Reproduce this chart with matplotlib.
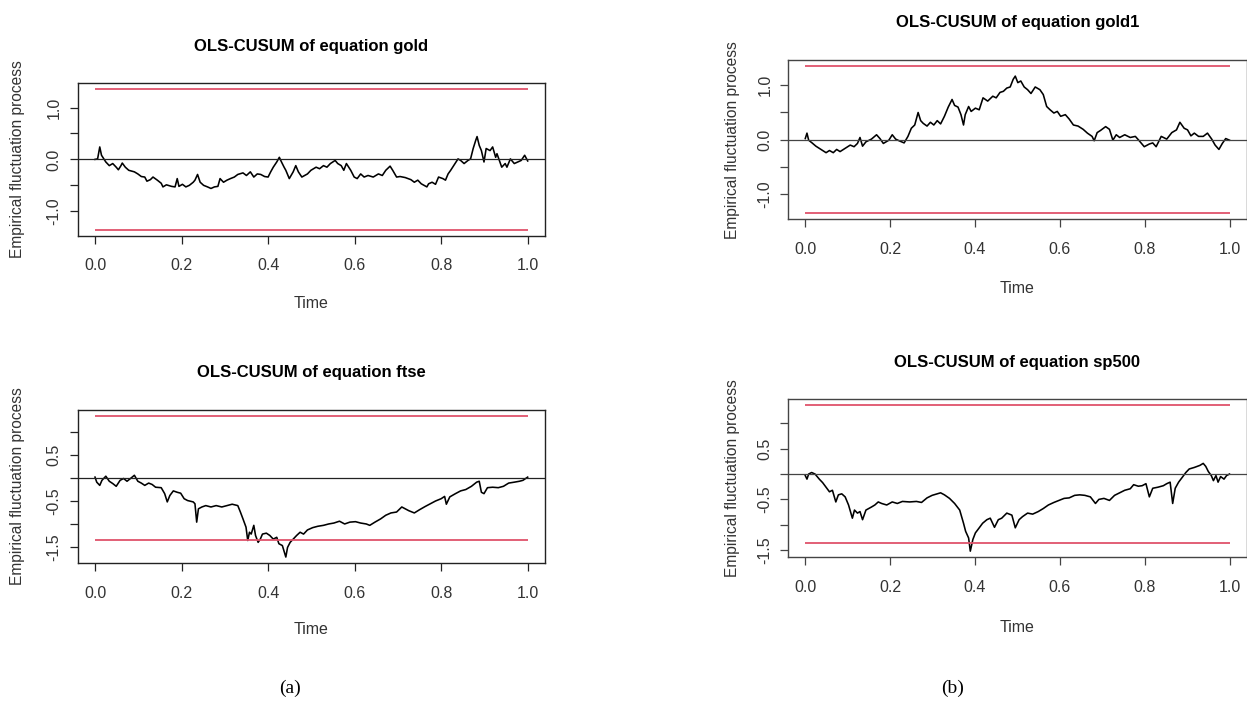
import matplotlib.pyplot as plt

plt.rcParams['font.family'] = ['Liberation Sans', 'DejaVu Sans']
plt.rcParams['axes.unicode_minus'] = False

W, H = 1247, 704

# OLS-CUSUM paths (time scaled to [0, 1])
gold_t = [0.000, 0.006, 0.011, 0.015, 0.025, 0.033, 0.041, 0.049, 0.054, 0.060, 0.063, 0.070,
          0.078, 0.091, 0.099, 0.107, 0.115, 0.120, 0.128, 0.134, 0.144, 0.153, 0.157, 0.165,
          0.177, 0.185, 0.190, 0.194, 0.202, 0.210, 0.218, 0.227, 0.231, 0.237, 0.243, 0.251,
          0.260, 0.268, 0.276, 0.284, 0.289, 0.297, 0.305, 0.313, 0.322, 0.330, 0.342, 0.350,
          0.359, 0.367, 0.375, 0.383, 0.392, 0.400, 0.406, 0.412, 0.420, 0.426, 0.431, 0.437,
          0.441, 0.449, 0.458, 0.464, 0.470, 0.478, 0.491, 0.499, 0.511, 0.519, 0.528, 0.536,
          0.544, 0.555, 0.561, 0.569, 0.575, 0.581, 0.591, 0.599, 0.606, 0.614, 0.622, 0.631,
          0.643, 0.655, 0.664, 0.672, 0.682, 0.688, 0.697, 0.705, 0.717, 0.730, 0.738, 0.746,
          0.754, 0.767, 0.771, 0.779, 0.787, 0.794, 0.804, 0.810, 0.816, 0.822, 0.829, 0.839,
          0.845, 0.853, 0.862, 0.868, 0.874, 0.880, 0.883, 0.888, 0.893, 0.899, 0.904, 0.913,
          0.919, 0.926, 0.929, 0.940, 0.948, 0.952, 0.960, 0.969, 0.977, 0.985, 0.993, 1.000]
gold_v = [0.00, 0.01, 0.24, 0.08, -0.05, -0.12, -0.08, -0.15, -0.20, -0.12, -0.07, -0.15,
          -0.21, -0.24, -0.28, -0.33, -0.34, -0.42, -0.39, -0.34, -0.40, -0.46, -0.53, -0.49,
          -0.52, -0.53, -0.37, -0.52, -0.48, -0.53, -0.50, -0.44, -0.40, -0.29, -0.44, -0.50,
          -0.53, -0.56, -0.53, -0.52, -0.37, -0.44, -0.40, -0.37, -0.34, -0.29, -0.26, -0.31,
          -0.24, -0.34, -0.28, -0.29, -0.33, -0.34, -0.24, -0.15, -0.05, 0.04, -0.05, -0.15,
          -0.21, -0.37, -0.24, -0.12, -0.24, -0.34, -0.28, -0.21, -0.15, -0.18, -0.12, -0.15,
          -0.08, -0.02, -0.08, -0.12, -0.21, -0.08, -0.21, -0.34, -0.37, -0.28, -0.34, -0.31,
          -0.34, -0.28, -0.31, -0.21, -0.13, -0.21, -0.34, -0.33, -0.35, -0.39, -0.44, -0.40,
          -0.47, -0.53, -0.47, -0.44, -0.48, -0.34, -0.37, -0.40, -0.28, -0.21, -0.12, 0.01,
          -0.02, -0.08, -0.02, 0.01, 0.21, 0.37, 0.44, 0.27, 0.17, -0.05, 0.21, 0.17,
          0.24, 0.04, 0.11, -0.15, -0.08, -0.15, 0.01, -0.08, -0.05, -0.02, 0.08, -0.03]

ftse_t = [0.000, 0.004, 0.011, 0.016, 0.025, 0.033, 0.041, 0.049, 0.058, 0.066, 0.074, 0.082,
          0.091, 0.099, 0.107, 0.115, 0.124, 0.132, 0.140, 0.153, 0.161, 0.167, 0.173, 0.181,
          0.190, 0.198, 0.206, 0.214, 0.227, 0.231, 0.235, 0.239, 0.247, 0.256, 0.268, 0.280,
          0.293, 0.305, 0.317, 0.330, 0.336, 0.342, 0.349, 0.353, 0.357, 0.361, 0.367, 0.371,
          0.377, 0.382, 0.387, 0.396, 0.404, 0.412, 0.420, 0.425, 0.433, 0.441, 0.445, 0.451,
          0.458, 0.466, 0.474, 0.482, 0.491, 0.503, 0.515, 0.528, 0.540, 0.552, 0.565, 0.577,
          0.589, 0.602, 0.614, 0.627, 0.635, 0.647, 0.660, 0.672, 0.684, 0.697, 0.709, 0.717,
          0.725, 0.738, 0.750, 0.763, 0.775, 0.787, 0.800, 0.808, 0.812, 0.820, 0.833, 0.845,
          0.857, 0.870, 0.882, 0.888, 0.893, 0.899, 0.907, 0.919, 0.932, 0.944, 0.956, 0.969,
          0.981, 0.989, 1.000]
ftse_v = [0.02, -0.09, -0.16, -0.05, 0.04, -0.07, -0.12, -0.18, -0.05, -0.01, -0.07, -0.01,
          0.06, -0.07, -0.11, -0.16, -0.11, -0.14, -0.20, -0.21, -0.34, -0.52, -0.38, -0.28,
          -0.31, -0.33, -0.45, -0.49, -0.52, -0.56, -0.96, -0.67, -0.63, -0.60, -0.63, -0.60,
          -0.63, -0.60, -0.57, -0.60, -0.74, -0.89, -1.07, -1.36, -1.18, -1.22, -1.03, -1.25,
          -1.40, -1.33, -1.22, -1.20, -1.25, -1.33, -1.29, -1.43, -1.47, -1.72, -1.51, -1.40,
          -1.33, -1.25, -1.18, -1.22, -1.13, -1.08, -1.05, -1.03, -1.00, -0.98, -0.94, -1.00,
          -0.96, -0.95, -0.98, -1.00, -1.03, -0.96, -0.89, -0.81, -0.76, -0.74, -0.63, -0.67,
          -0.71, -0.76, -0.69, -0.62, -0.56, -0.50, -0.45, -0.40, -0.57, -0.41, -0.34, -0.28,
          -0.25, -0.18, -0.09, -0.07, -0.31, -0.34, -0.21, -0.20, -0.21, -0.18, -0.11, -0.09,
          -0.07, -0.05, 0.02]

gold1_t = [0.000, 0.004, 0.008, 0.016, 0.025, 0.037, 0.049, 0.057, 0.066, 0.074, 0.082, 0.090,
           0.098, 0.106, 0.115, 0.123, 0.129, 0.135, 0.143, 0.156, 0.168, 0.176, 0.184, 0.197,
           0.205, 0.213, 0.221, 0.233, 0.242, 0.250, 0.258, 0.266, 0.272, 0.278, 0.287, 0.295,
           0.303, 0.311, 0.319, 0.328, 0.337, 0.346, 0.352, 0.360, 0.367, 0.373, 0.377, 0.385,
           0.391, 0.401, 0.410, 0.419, 0.430, 0.442, 0.450, 0.459, 0.467, 0.475, 0.483, 0.490,
           0.495, 0.501, 0.508, 0.516, 0.524, 0.532, 0.542, 0.553, 0.561, 0.569, 0.577, 0.586,
           0.594, 0.602, 0.613, 0.622, 0.632, 0.643, 0.655, 0.665, 0.676, 0.681, 0.688, 0.696,
           0.708, 0.717, 0.725, 0.733, 0.741, 0.753, 0.766, 0.778, 0.786, 0.799, 0.811, 0.819,
           0.827, 0.839, 0.852, 0.864, 0.875, 0.883, 0.893, 0.901, 0.909, 0.917, 0.927, 0.938,
           0.948, 0.958, 0.966, 0.975, 0.983, 0.991, 1.000]
gold1_v = [0.02, 0.12, -0.01, -0.06, -0.12, -0.18, -0.24, -0.20, -0.24, -0.18, -0.22, -0.18,
           -0.14, -0.10, -0.13, -0.07, 0.04, -0.12, -0.04, 0.01, 0.09, 0.02, -0.07, -0.01,
           0.09, 0.01, -0.02, -0.06, 0.06, 0.21, 0.27, 0.50, 0.35, 0.30, 0.25, 0.32,
           0.27, 0.35, 0.29, 0.43, 0.60, 0.74, 0.63, 0.60, 0.46, 0.27, 0.46, 0.61,
           0.52, 0.58, 0.55, 0.77, 0.71, 0.80, 0.77, 0.87, 0.89, 0.95, 0.97, 1.11,
           1.17, 1.05, 1.08, 0.97, 0.92, 0.85, 0.97, 0.92, 0.83, 0.61, 0.55, 0.49,
           0.52, 0.43, 0.46, 0.38, 0.27, 0.25, 0.19, 0.12, 0.06, -0.02, 0.13, 0.17,
           0.24, 0.19, -0.01, 0.09, 0.04, 0.09, 0.04, 0.06, -0.01, -0.13, -0.08, -0.06,
           -0.13, 0.06, 0.01, 0.13, 0.18, 0.32, 0.21, 0.18, 0.07, 0.12, 0.06, 0.06,
           0.12, 0.01, -0.10, -0.18, -0.07, 0.02, -0.01]

sp500_t = [0.000, 0.004, 0.008, 0.015, 0.023, 0.033, 0.041, 0.049, 0.057, 0.064, 0.072, 0.078,
           0.086, 0.094, 0.102, 0.111, 0.116, 0.123, 0.129, 0.135, 0.143, 0.156, 0.164, 0.172,
           0.180, 0.192, 0.205, 0.217, 0.229, 0.246, 0.262, 0.274, 0.287, 0.299, 0.311, 0.319,
           0.328, 0.340, 0.352, 0.364, 0.373, 0.378, 0.385, 0.389, 0.395, 0.401, 0.410, 0.418,
           0.428, 0.436, 0.446, 0.455, 0.463, 0.475, 0.487, 0.495, 0.504, 0.512, 0.524, 0.536,
           0.549, 0.561, 0.573, 0.586, 0.598, 0.610, 0.622, 0.635, 0.647, 0.659, 0.672, 0.684,
           0.692, 0.704, 0.717, 0.729, 0.741, 0.753, 0.766, 0.774, 0.785, 0.794, 0.803, 0.811,
           0.819, 0.831, 0.844, 0.852, 0.860, 0.866, 0.872, 0.880, 0.889, 0.897, 0.905, 0.917,
           0.930, 0.938, 0.944, 0.950, 0.957, 0.962, 0.968, 0.973, 0.979, 0.987, 0.993, 1.000]
sp500_v = [-0.03, -0.10, 0.00, 0.03, 0.00, -0.10, -0.17, -0.26, -0.35, -0.32, -0.55, -0.41,
           -0.39, -0.45, -0.61, -0.87, -0.71, -0.77, -0.74, -0.90, -0.71, -0.65, -0.61, -0.55,
           -0.58, -0.61, -0.55, -0.58, -0.54, -0.55, -0.54, -0.56, -0.47, -0.42, -0.39, -0.37,
           -0.41, -0.48, -0.58, -0.71, -0.97, -1.13, -1.26, -1.52, -1.29, -1.16, -1.06, -0.97,
           -0.90, -0.87, -1.05, -0.90, -0.87, -0.77, -0.81, -1.06, -0.90, -0.84, -0.77, -0.79,
           -0.74, -0.68, -0.61, -0.56, -0.52, -0.48, -0.47, -0.42, -0.41, -0.42, -0.45, -0.58,
           -0.50, -0.48, -0.52, -0.42, -0.37, -0.32, -0.29, -0.21, -0.24, -0.23, -0.19, -0.45,
           -0.28, -0.26, -0.23, -0.19, -0.16, -0.58, -0.28, -0.16, -0.06, 0.03, 0.10, 0.13,
           0.17, 0.21, 0.15, 0.05, -0.03, -0.13, -0.03, -0.16, -0.05, -0.10, -0.03, 0.00]

# 5% boundary of the OLS-CUSUM test
bound = 1.358

x_ticks = [0.0, 0.2, 0.4, 0.6, 0.8, 1.0]
x_labels = ['0.0', '0.2', '0.4', '0.6', '0.8', '1.0']
y_ticks_a = [-1.0, -0.5, 0.0, 0.5, 1.0]
y_labels_a = ['-1.0', '', '0.0', '', '1.0']
y_ticks_b = [-1.5, -1.0, -0.5, 0.0, 0.5, 1.0]
y_labels_b = ['-1.5', '', '-0.5', '', '0.5', '']


def fx(px):
    return px / W


def fy(py):
    return 1 - py / H


fig = plt.figure(figsize=(W / 100, H / 100), dpi=100)

# (name, t, v, box left/top/right/bottom px, title y, xlabel y, ylabel x, yticks, ylabels, frame colour)
panels = [
    ('gold', gold_t, gold_v, (77.7, 83.3, 545, 235.5), 46, 303, 18, y_ticks_a, y_labels_a, '#222222'),
    ('ftse', ftse_t, ftse_v, (77.7, 410, 545, 562.7), 373, 630, 18, y_ticks_b, y_labels_b, '#222222'),
    ('gold1', gold1_t, gold1_v, (788.3, 60, 1246.5, 219.3), 22, 288, 733, y_ticks_a, y_labels_a, '#444444'),
    ('sp500', sp500_t, sp500_v, (788.3, 399.3, 1246.5, 557), 362, 628, 733, y_ticks_b, y_labels_b, '#444444'),
]

for name, t, v, box, ty, xy, yx, yt, yl, fc in panels:
    l, top, r, b = box
    ax = fig.add_axes([fx(l), fy(b), fx(r) - fx(l), fy(top) - fy(b)])
    ax.plot(t, v, color='black', lw=1.15)
    ax.hlines([bound, -bound], t[0], t[-1], color='#DF536B', lw=1.3)
    ax.axhline(0, color=fc, lw=0.9)
    ax.margins(x=0.04, y=0.04)

    ax.set_xticks(x_ticks)
    ax.set_xticklabels(x_labels)
    ax.set_yticks(yt)
    ax.set_yticklabels(yl, rotation=90, va='center')
    ax.tick_params(direction='out', length=5.5, width=0.9, color=fc,
                   labelsize=11.5, labelcolor='#333333')
    ax.tick_params(axis='x', pad=11)
    ax.tick_params(axis='y', pad=6)
    for s in ax.spines.values():
        s.set_color(fc)
        s.set_linewidth(1.0)

    cx = (l + r) / 2
    fig.text(fx(cx), fy(ty), 'OLS-CUSUM of equation ' + name, ha='center', va='center',
             fontsize=12, fontweight='bold')
    fig.text(fx(cx), fy(xy), 'Time', ha='center', va='center', fontsize=11.5, color='#333333')
    fig.text(fx(yx), fy((top + b) / 2), 'Empirical fluctuation process', rotation=90,
             ha='center', va='center', fontsize=11.2, color='#333333')

fig.text(fx(290), fy(688), '(a)', ha='center', va='center', fontsize=14, family='Liberation Serif')
fig.text(fx(953), fy(688), '(b)', ha='center', va='center', fontsize=14, family='Liberation Serif')

fig.savefig('out.png', dpi=100)
